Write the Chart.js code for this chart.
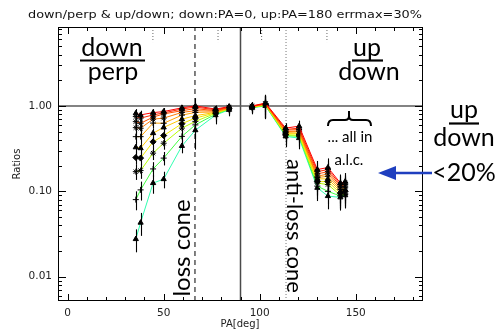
<!DOCTYPE html>
<html><head><meta charset="utf-8">
<script src="https://cdn.jsdelivr.net/npm/chart.js@4.4.1/dist/chart.umd.min.js"></script>
<style>html,body{margin:0;padding:0;background:#fff;overflow:hidden}canvas{display:block}</style>
</head><body>
<canvas id="c" width="500" height="331" style="width:500px;height:331px"></canvas>
<script>
// ---- pitch-angle columns (deg) ----
const paLeft  = [35.5, 38, 44.5, 50, 59.5, 66.5, 77, 84];
const paRight = [96, 103, 113.5, 120.5, 130, 135.5, 142, 144.5];
// ---- ratios: first 8 = down/perp (left), last 8 = up/down (right) ----
const ratios1  = [0.82, 0.785, 0.835, 0.86, 0.95, 1.00, 0.92, 0.98,  1.00, 1.08, 0.55, 0.58, 0.18, 0.19, 0.125, 0.13];
const ratios2  = [0.75, 0.72, 0.785, 0.83, 0.92, 0.97, 0.90, 0.97,  0.99, 1.07, 0.53, 0.55, 0.17, 0.18, 0.12, 0.125];
const ratios3  = [0.655, 0.627, 0.74, 0.806, 0.88, 0.93, 0.88, 0.96,  0.99, 1.06, 0.52, 0.53, 0.16, 0.17, 0.115, 0.12];
const ratios4  = [0.557, 0.548, 0.70, 0.72, 0.84, 0.88, 0.87, 0.95,  0.98, 1.05, 0.50, 0.51, 0.15, 0.16, 0.11, 0.115];
const ratios5  = [0.437, 0.437, 0.63, 0.627, 0.78, 0.84, 0.85, 0.94,  0.98, 1.05, 0.49, 0.50, 0.145, 0.15, 0.105, 0.11];
const ratios6  = [0.328, 0.32, 0.48, 0.56, 0.70, 0.77, 0.84, 0.93,  0.97, 1.04, 0.48, 0.48, 0.14, 0.14, 0.10, 0.105];
const ratios7  = [0.249, 0.245, 0.38, 0.45, 0.62, 0.72, 0.83, 0.93,  0.97, 1.03, 0.47, 0.47, 0.13, 0.13, 0.095, 0.10];
const ratios8  = [0.17, 0.175, 0.28, 0.366, 0.55, 0.66, 0.82, 0.92,  0.96, 1.02, 0.46, 0.45, 0.125, 0.12, 0.09, 0.095];
const ratios9  = [0.08, 0.104, 0.183, 0.245, 0.44, 0.60, 0.80, 0.91,  0.96, 1.01, 0.45, 0.44, 0.115, 0.10, 0.088, 0.092];
const ratios10 = [0.0276, 0.043, 0.125, 0.139, 0.34, 0.52, 0.78, 0.90,  0.95, 1.00, 0.44, 0.42, 0.11, 0.088, 0.085, 0.09];
// ---- relative errors (fraction) ----
const err1  = [0.12,0.12,0.10,0.10,0.08,0.10,0.10,0.08, 0.08,0.10,0.14,0.16,0.26,0.28,0.26,0.26];
const err2  = [0.12,0.12,0.10,0.10,0.08,0.10,0.10,0.08, 0.08,0.12,0.14,0.16,0.26,0.28,0.26,0.26];
const err3  = [0.13,0.13,0.11,0.10,0.09,0.12,0.12,0.10, 0.10,0.15,0.16,0.17,0.28,0.28,0.28,0.28];
const err4  = [0.14,0.14,0.12,0.11,0.10,0.12,0.12,0.10, 0.10,0.20,0.16,0.18,0.28,0.30,0.28,0.28];
const err5  = [0.16,0.16,0.13,0.12,0.10,0.14,0.14,0.12, 0.12,0.25,0.18,0.20,0.30,0.30,0.30,0.30];
const err6  = [0.17,0.17,0.14,0.13,0.12,0.60,0.15,0.12, 0.12,0.30,0.20,0.22,0.30,0.30,0.30,0.30];
const err7  = [0.18,0.18,0.15,0.15,0.14,0.16,0.16,0.14, 0.14,0.30,0.20,0.22,0.30,0.30,0.30,0.30];
const err8  = [0.20,0.20,0.17,0.16,0.15,0.18,0.18,0.14, 0.14,0.30,0.22,0.24,0.30,0.30,0.30,0.30];
const err9  = [0.25,0.25,0.20,0.18,0.16,0.20,0.20,0.15, 0.15,0.30,0.24,0.25,0.30,0.30,0.30,0.30];
const err10 = [0.30,0.30,0.25,0.22,0.18,0.22,0.22,0.16, 0.16,0.30,0.25,0.26,0.30,0.30,0.30,0.30];
const seriesColors  = ['#ff0000','#ff2800','#ff5000','#ff7800','#ffa000','#ffc800','#f0e800','#b4ff00','#40ff40','#30ffb0'];
const seriesSymbols = ['triangle','star','star','star','cross','triangle','rectRot','star','cross','triangle'];
// ---- axes ----
const xTickValues = [0,10,20,30,40,50,60,70,80,90,100,110,120,130,140,150,160,170,180];
const xTickLabels = ['0','50','100','150'];
const yTickMajor  = [0.01, 0.1, 1];
const yTickLabels = ['0.01','0.10','1.00'];
const yTickMinor  = [0.006,0.007,0.008,0.009,0.02,0.03,0.04,0.05,0.06,0.07,0.08,0.09,0.2,0.3,0.4,0.5,0.6,0.7,0.8,0.9,2,3,4,5,6,7,8];
const xRange = [-5, 185];
const yRange = [0.0052, 8.4];
// ---- reference markers (deg) ----
const perpPA = 90, lossConePA = 66.3, antiLossConePA = 113.7;
const topMarkPA = [44.4, 78.3, 101, 135];
const topMarkRatio = [8.4, 5.6];

const seriesValues = [ratios1,ratios2,ratios3,ratios4,ratios5,ratios6,ratios7,ratios8,ratios9,ratios10];
const seriesErrors = [err1,err2,err3,err4,err5,err6,err7,err8,err9,err10];
const allPA = paLeft.concat(paRight);

const datasets = [];
seriesValues.forEach((vals, i) => {
  const pts = paLeft.map((p, j) => ({x: p, y: vals[j]}));
  pts.push({x: perpPA, y: null});
  paRight.forEach((p, j) => pts.push({x: p, y: vals[8 + j]}));
  datasets.push({
    data: pts, borderColor: seriesColors[i], borderWidth: 1, tension: 0, spanGaps: false,
    pointStyle: seriesSymbols[i], pointRadius: 3, pointBorderWidth: 1,
    pointBackgroundColor: '#000', pointBorderColor: '#000', order: 1
  });
});
function refLine(pts, color, width, dash) {
  return {data: pts, borderColor: color, borderWidth: width, borderDash: dash || [], pointRadius: 0, order: 5, tension: 0};
}
datasets.push(refLine([{x: xRange[0], y: 1}, {x: xRange[1], y: 1}], '#5a5a5a', 1.5));
datasets.push(refLine([{x: perpPA, y: yRange[0]}, {x: perpPA, y: yRange[1]}], '#4a4a4a', 1.5));
datasets.push(refLine([{x: lossConePA, y: yRange[0]}, {x: lossConePA, y: yRange[1]}], '#000', 1, [5, 4]));
datasets.push(refLine([{x: antiLossConePA, y: yRange[0]}, {x: antiLossConePA, y: yRange[1]}], '#777', 1, [1, 2]));
topMarkPA.forEach(p => datasets.push(refLine([{x: p, y: topMarkRatio[0]}, {x: p, y: topMarkRatio[1]}], '#666', 1, [1, 2])));

function drawText(ctx, s, x, y, o) {
  ctx.save();
  ctx.font = o.font; ctx.fillStyle = o.color || '#000';
  ctx.textAlign = o.align || 'center'; ctx.textBaseline = o.baseline || 'alphabetic';
  ctx.translate(x, y);
  if (o.rot) ctx.rotate(o.rot);
  if (o.width) { const w = ctx.measureText(s).width; ctx.scale(o.width / w, 1); }
  ctx.fillText(s, 0, 0);
  ctx.restore();
}
function hline(ctx, x1, x2, y, w, c) {
  ctx.save(); ctx.strokeStyle = c || '#000'; ctx.lineWidth = w; ctx.beginPath(); ctx.moveTo(x1, y); ctx.lineTo(x2, y); ctx.stroke(); ctx.restore();
}

const decor = {
  id: 'decor',
  afterDatasetsDraw(chart) {
    const {ctx, chartArea: a, scales: {x, y}} = chart;
    ctx.save();
    ctx.beginPath(); ctx.rect(a.left, a.top, a.right - a.left, a.bottom - a.top); ctx.clip();
    ctx.strokeStyle = '#000'; ctx.lineWidth = 1.1;
    seriesValues.forEach((vals, i) => {
      const errs = seriesErrors[i];
      vals.forEach((v, j) => {
        const px = Math.round(x.getPixelForValue(allPA[j])) + 0.5;
        const e = errs[j];
        ctx.beginPath();
        ctx.moveTo(px, y.getPixelForValue(v * (1 + e)));
        ctx.lineTo(px, y.getPixelForValue(Math.max(v * (1 - e), 1e-4)));
        ctx.stroke();
      });
    });
    ctx.restore();
  },
  afterDraw(chart) {
    const {ctx, chartArea: a, scales: {x, y}} = chart;
    ctx.save();
    ctx.strokeStyle = '#000'; ctx.lineWidth = 1;
    ctx.strokeRect(a.left + 0.5, a.top + 0.5, a.right - a.left - 1, a.bottom - a.top - 1);
    ctx.beginPath();
    xTickValues.forEach(v => {
      const px = Math.round(x.getPixelForValue(v)) + 0.5;
      const len = v % 50 === 0 ? 7 : 4;
      ctx.moveTo(px, a.bottom); ctx.lineTo(px, a.bottom - len);
      ctx.moveTo(px, a.top); ctx.lineTo(px, a.top + len);
    });
    yTickMajor.concat(yTickMinor).forEach(v => {
      const py = Math.round(y.getPixelForValue(v)) + 0.5;
      const len = yTickMajor.includes(v) ? 8 : 4;
      ctx.moveTo(a.left, py); ctx.lineTo(a.left + len, py);
      ctx.moveTo(a.right, py); ctx.lineTo(a.right - len, py);
    });
    ctx.stroke();
    ctx.restore();

    const sans = '"DejaVu Sans", sans-serif';
    drawText(ctx, 'down/perp & up/down; down:PA=0, up:PA=180 errmax=30%', 28, 18, {font: '11px ' + sans, align: 'left', width: 394, color: '#111'});
    drawText(ctx, 'PA[deg]', 240, 327, {font: '10px ' + sans, color: '#222'});
    drawText(ctx, 'Ratios', 20, 164, {font: '10px ' + sans, rot: -Math.PI / 2, color: '#222'});

    const big = '25px Lato, "Open Sans", sans-serif';
    drawText(ctx, 'down', 112, 56, {font: big});
    hline(ctx, 80, 145, 60.5, 2.2);
    drawText(ctx, 'perp', 113, 80, {font: big});
    drawText(ctx, 'up', 367, 56, {font: big});
    hline(ctx, 352, 383, 60.5, 2.2);
    drawText(ctx, 'down', 369, 80, {font: big});

    drawText(ctx, 'up', 464, 118, {font: big});
    hline(ctx, 449, 479, 123.5, 2.2);
    drawText(ctx, 'down', 464, 146, {font: big});
    drawText(ctx, '<20%', 464, 181, {font: big});

    drawText(ctx, 'loss cone', 190, 248, {font: '24px Lato, "Open Sans", sans-serif', rot: -Math.PI / 2});
    drawText(ctx, 'anti-loss cone', 287, 226, {font: '22px Lato, "Open Sans", sans-serif', rot: Math.PI / 2});

    const small = '15px Lato, "Open Sans", sans-serif';
    drawText(ctx, '... all in', 350, 142, {font: small});
    drawText(ctx, 'a.l.c.', 349, 165, {font: small});

    // curly brace
    ctx.save();
    ctx.strokeStyle = '#000'; ctx.lineWidth = 2;
    ctx.beginPath();
    ctx.moveTo(328, 126); ctx.quadraticCurveTo(328, 120, 333, 120);
    ctx.lineTo(345, 120); ctx.quadraticCurveTo(349, 120, 349, 116); ctx.lineTo(349, 111);
    ctx.moveTo(349, 116); ctx.quadraticCurveTo(349, 120, 353, 120);
    ctx.lineTo(366, 120); ctx.quadraticCurveTo(371, 120, 371, 126);
    ctx.stroke();
    ctx.restore();

    // blue arrow
    ctx.save();
    ctx.strokeStyle = '#1f3fbf'; ctx.fillStyle = '#1f3fbf'; ctx.lineWidth = 2.5;
    ctx.beginPath(); ctx.moveTo(432, 173); ctx.lineTo(392, 173); ctx.stroke();
    ctx.beginPath(); ctx.moveTo(378, 173); ctx.lineTo(396, 166); ctx.lineTo(396, 180); ctx.closePath(); ctx.fill();
    ctx.restore();
  }
};

new Chart(document.getElementById('c'), {
  type: 'line',
  data: {datasets},
  options: {
    responsive: false, animation: false, events: [],
    layout: {padding: {left: 0, right: 77, top: 27, bottom: 0}},
    plugins: {legend: {display: false}, tooltip: {enabled: false}, title: {display: false}},
    scales: {
      x: {
        type: 'linear', min: xRange[0], max: xRange[1],
        afterBuildTicks: s => { s.ticks = xTickValues.map(v => ({value: v})); },
        afterFit: s => { s.height = 30; },
        grid: {display: false, drawTicks: false}, border: {display: false},
        ticks: {autoSkip: false, maxRotation: 0, padding: 6, color: '#222', font: {family: 'DejaVu Sans', size: 10.5},
          callback: v => { const i = [0, 50, 100, 150].indexOf(v); return i >= 0 ? xTickLabels[i] : ''; }}
      },
      y: {
        type: 'logarithmic', min: yRange[0], max: yRange[1],
        afterBuildTicks: s => { s.ticks = yTickMinor.concat(yTickMajor).sort((a, b) => a - b).map(v => ({value: v})); },
        afterFit: s => { s.width = 58; },
        grid: {display: false, drawTicks: false}, border: {display: false},
        ticks: {autoSkip: false, padding: 6, color: '#222', font: {family: 'DejaVu Sans', size: 10.5},
          callback: v => { const i = yTickMajor.findIndex(m => Math.abs(m - v) / m < 1e-6); return i >= 0 ? yTickLabels[i] : ''; }}
      }
    }
  },
  plugins: [decor]
});
</script>
</body></html>
